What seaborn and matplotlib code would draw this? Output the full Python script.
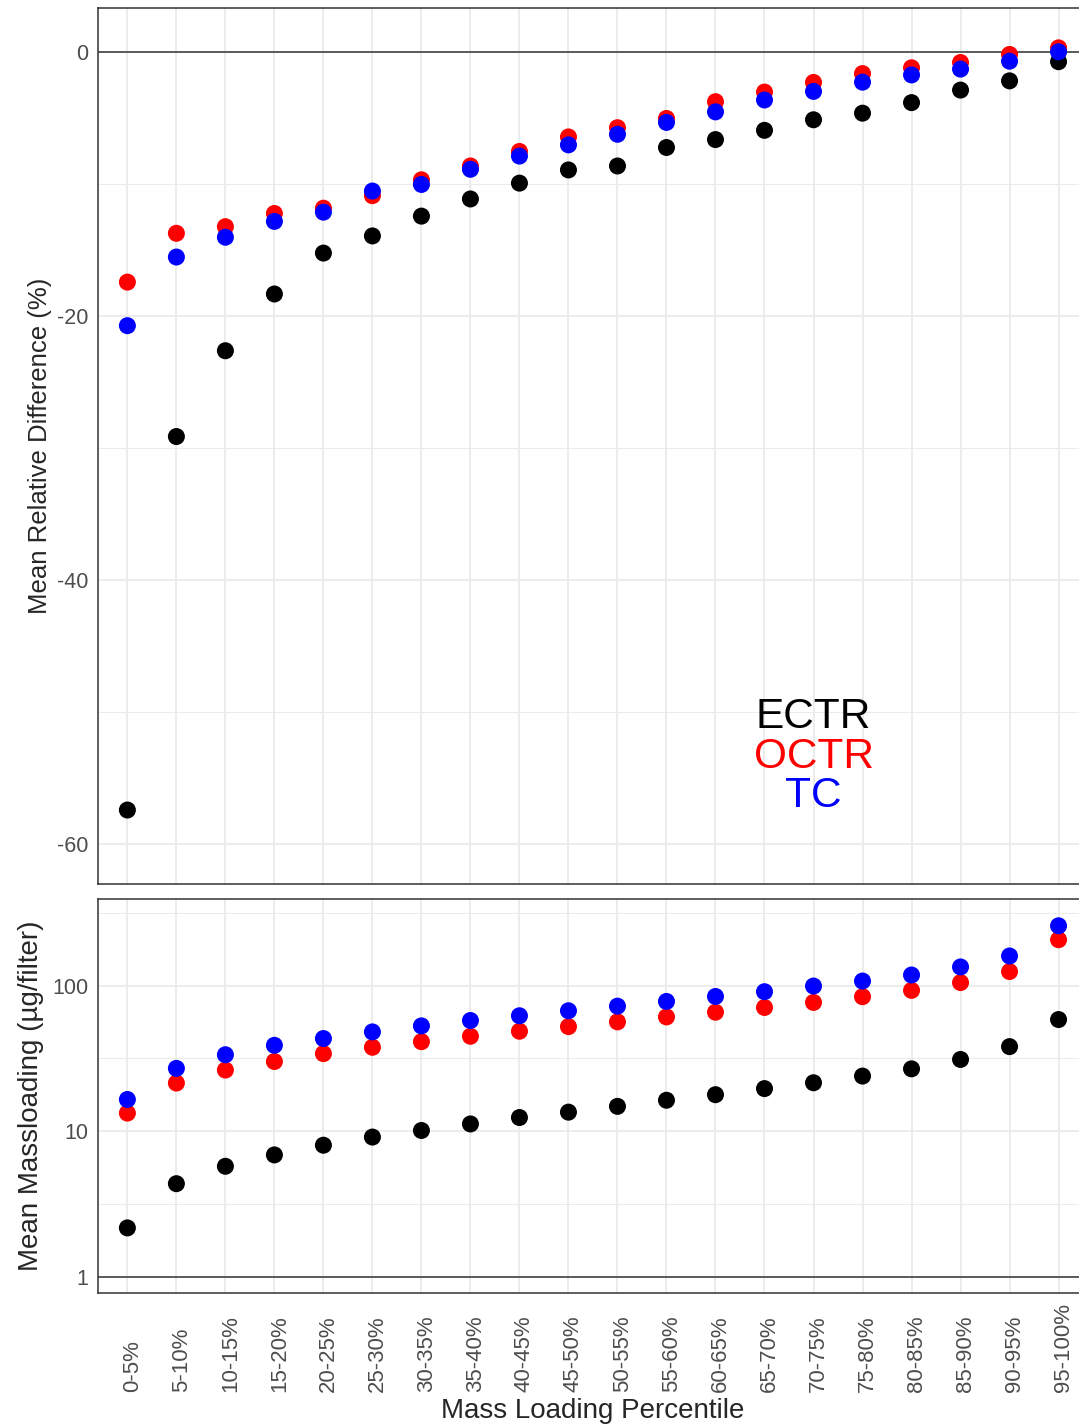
import numpy as np
import pandas as pd
import matplotlib
matplotlib.use("Agg")
import matplotlib.pyplot as plt
import matplotlib.transforms as mtransforms
import seaborn as sns
from matplotlib.ticker import FixedLocator

# categories
percentiles = ["0-5%", "5-10%", "10-15%", "15-20%", "20-25%", "25-30%", "30-35%",
               "35-40%", "40-45%", "45-50%", "50-55%", "55-60%", "60-65%", "65-70%",
               "70-75%", "75-80%", "80-85%", "85-90%", "90-95%", "95-100%"]
species = ["ECTR", "OCTR", "TC"]
colors = {"ECTR": "black", "OCTR": "red", "TC": "blue"}

# mean relative difference (%)
ectr_diff = [-57.4, -29.1, -22.6, -18.3, -15.2, -13.9, -12.4, -11.1, -9.9, -8.9,
             -8.6, -7.2, -6.6, -5.9, -5.1, -4.6, -3.8, -2.85, -2.15, -0.7]
octr_diff = [-17.4, -13.7, -13.2, -12.2, -11.8, -10.85, -9.65, -8.6, -7.5, -6.4,
             -5.7, -5.0, -3.73, -3.0, -2.27, -1.6, -1.16, -0.76, -0.15, 0.35]
tc_diff = [-20.7, -15.5, -14.0, -12.8, -12.1, -10.5, -10.0, -8.85, -7.85, -7.0,
           -6.2, -5.3, -4.5, -3.6, -2.95, -2.25, -1.7, -1.26, -0.66, 0.05]

# mean massloading (ug/filter)
ectr_mass = [2.16, 4.35, 5.73, 6.86, 8.0, 9.1, 10.1, 11.2, 12.4, 13.5,
             14.8, 16.3, 17.8, 19.6, 21.5, 23.9, 26.8, 31.1, 38.1, 58.5]
octr_mass = [13.3, 21.4, 26.3, 30.1, 34.1, 37.7, 41.2, 44.9, 48.6, 52.3,
             56.4, 61.0, 65.7, 70.8, 76.7, 84.0, 92.8, 105, 125, 207]
tc_mass = [16.5, 27.0, 33.5, 38.9, 43.3, 48.1, 52.9, 57.6, 62.1, 67.2,
           72.3, 77.9, 84.3, 90.9, 99.4, 107.6, 118.4, 134.5, 160, 258]

df = pd.DataFrame({
    "percentile": percentiles * 3,
    "species": np.repeat(species, len(percentiles)),
    "rel_diff": ectr_diff + octr_diff + tc_diff,
    "mass": ectr_mass + octr_mass + tc_mass,
})

sns.set_style("white")
plt.rcParams["font.family"] = ["Liberation Sans", "DejaVu Sans"]
plt.rcParams["axes.unicode_minus"] = False

grid_col = "#EBEBEB"
border_col = "#333333"
tick_col = "#4D4D4D"

fig = plt.figure(figsize=(10.79, 14.28), dpi=100)
ax1 = fig.add_axes([0.0908, 0.381, 0.9175, 0.6134])
ax2 = fig.add_axes([0.0908, 0.0945, 0.9175, 0.2759])


def style_axes(ax):
    ax.set_axisbelow(True)
    ax.grid(True, which="major", color=grid_col, lw=1.3)
    ax.grid(True, which="minor", axis="y", color=grid_col, lw=0.7)
    for sp in ax.spines.values():
        sp.set_color(border_col)
        sp.set_linewidth(1.1)
    ax.tick_params(axis="y", which="major", direction="out", length=4.3, width=1.1,
                   color=border_col, labelcolor=tick_col, labelsize=15.5, pad=2.5)
    ax.tick_params(axis="y", which="minor", length=0)
    ax.set_xticks(range(len(percentiles)))
    ax.set_xlim(-0.6, len(percentiles) - 0.4)


# top panel: relative difference
sns.scatterplot(data=df, x="percentile", y="rel_diff", hue="species",
                palette=colors, hue_order=species, s=150, linewidth=0,
                legend=False, ax=ax1, zorder=3)
ax1.axhline(0, color=border_col, lw=1.1, zorder=2)
style_axes(ax1)
ax1.set_ylim(-63.0, 3.37)
ax1.set_yticks([0, -20, -40, -60])
ax1.set_yticklabels(["0", "-20", "-40", "-60"])
ax1.yaxis.set_minor_locator(FixedLocator([-10, -30, -50]))
ax1.tick_params(axis="x", length=0, labelbottom=False)
ax1.set_xlabel("")
ax1.set_ylabel("Mean Relative Difference (%)", fontsize=18.5, labelpad=4)

for i, sp in enumerate(species):
    ax1.text(14, -50.35 - 3 * i, sp, color=colors[sp], fontsize=30.5,
             ha="center", va="center")

# bottom panel: massloading
sns.scatterplot(data=df, x="percentile", y="mass", hue="species",
                palette=colors, hue_order=species, s=150, linewidth=0,
                legend=False, ax=ax2, zorder=3)
ax2.set_yscale("log")
ax2.axhline(1, color=border_col, lw=1.1, zorder=2)
style_axes(ax2)
ax2.set_ylim(0.77, 394)
ax2.yaxis.set_major_locator(FixedLocator([1, 10, 100]))
ax2.set_yticklabels(["1", "10", "100"])
ax2.yaxis.set_minor_locator(FixedLocator([10 ** 0.5, 10 ** 1.5, 10 ** 2.5]))
ax2.tick_params(axis="y", which="minor", length=0)
ax2.set_xticklabels(percentiles, rotation=90, va="bottom", ha="center")
ax2.tick_params(axis="x", direction="out", length=4.3, width=1.1, color=border_col,
                labelcolor=tick_col, labelsize=16, pad=67)
# ggplot puts rotated labels a little right of the tick
shift = mtransforms.ScaledTranslation(5 / 100, 0, fig.dpi_scale_trans)
for lab in ax2.get_xticklabels():
    lab.set_transform(lab.get_transform() + shift)
ax2.set_xlabel("Mass Loading Percentile", fontsize=20, labelpad=4)
ax2.set_ylabel("Mean Massloading (\u00b5g/filter)", fontsize=20, labelpad=6)

fig.savefig("out.png", dpi=100)
